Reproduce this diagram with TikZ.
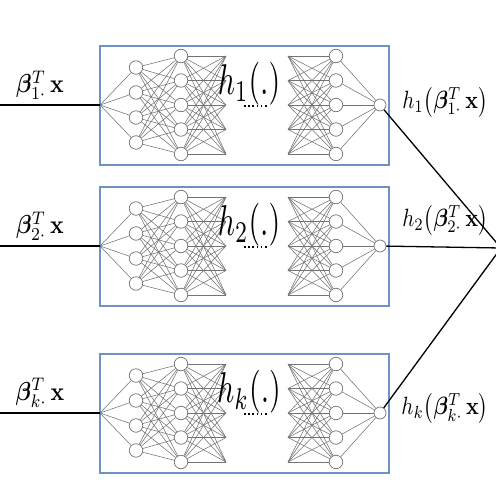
\documentclass[tikz,border=0pt]{standalone}
\usepackage{amsmath,bm}
\definecolor{boxblue}{RGB}{110,145,198}
\definecolor{netgray}{RGB}{115,115,115}
\tikzset{
  netbox/.style={draw=boxblue,line width=1.6pt},
  neuron/.style={circle,draw=netgray,fill=white,line width=0.7pt,minimum size=13.5pt,inner sep=0pt},
  outneuron/.style={neuron,minimum size=12pt},
  link/.style={draw=netgray,line width=0.55pt},
  mainline/.style={draw=black,line width=1.3pt},
  dotrow/.style={draw=black,line width=1.6pt,dash pattern=on 1.6pt off 2.6pt},
}
\begin{document}
\begin{tikzpicture}[x=1pt,y=-1pt]
\useasboundingbox (0,0) rectangle (496,493);
% Common end of the three outputs
\coordinate (sum) at (501,248);

\foreach \b/\c/\r in {1/105/-3,2/246/-26,k/413/-5} {
  % Box frame
  \draw[netbox] (100,\c-59) rectangle (389,\c+60);

  % Input point and layers
  \coordinate (src\b) at (0,\c);
  \coordinate (in\b) at (100,\c);
  \foreach \i/\dy in {1/-37.5,2/-12.5,3/12.5,4/37.5}
    \node[neuron] (a\b\i) at (136,\c+\dy) {};
  \foreach \j/\dy in {1/-49,2/-24.5,3/0,4/24.5,5/49} {
    \node[neuron] (b\b\j) at (181,\c+\dy) {};
    \coordinate (p\b\j) at (226,\c+\dy);
    \coordinate (q\b\j) at (288,\c+\dy);
    \node[neuron] (d\b\j) at (336,\c+\dy) {};
  }
  \node[outneuron] (o\b) at (380,\c) {};

  % Links
  \foreach \i in {1,...,4} {
    \draw[link] (in\b) -- (a\b\i);
    \foreach \j in {1,...,5}
      \draw[link] (a\b\i) -- (b\b\j);
  }
  \foreach \j in {1,...,5} {
    \foreach \m in {1,...,5} {
      \draw[link] (b\b\j) -- (p\b\m);
      \draw[link] (q\b\j) -- (d\b\m);
    }
    \draw[link] (d\b\j) -- (o\b);
  }

  % Labels
  \node (name\b) at (249,\c-21) {\scalebox{3.0}[4.3]{$h_{\b}(.)$}};
  \draw[dotrow] (244,\c+1) -- (268,\c+1);
  \node (lab\b) at (40,\c-20) {\scalebox{2.25}[2.6]{$\boldsymbol{\beta}_{\b\cdot}^{T}\,\mathbf{x}$}};
  \node (res\b) at (445,\c+\r) {\scalebox{2.1}[2.5]{$h_{\b}\bigl(\boldsymbol{\beta}_{\b\cdot}^{T}\,\mathbf{x}\bigr)$}};

  % Connections
  \draw[mainline] (src\b) -- (in\b);
  \draw[mainline] (o\b) -- (sum);
}
\end{tikzpicture}
\end{document}
